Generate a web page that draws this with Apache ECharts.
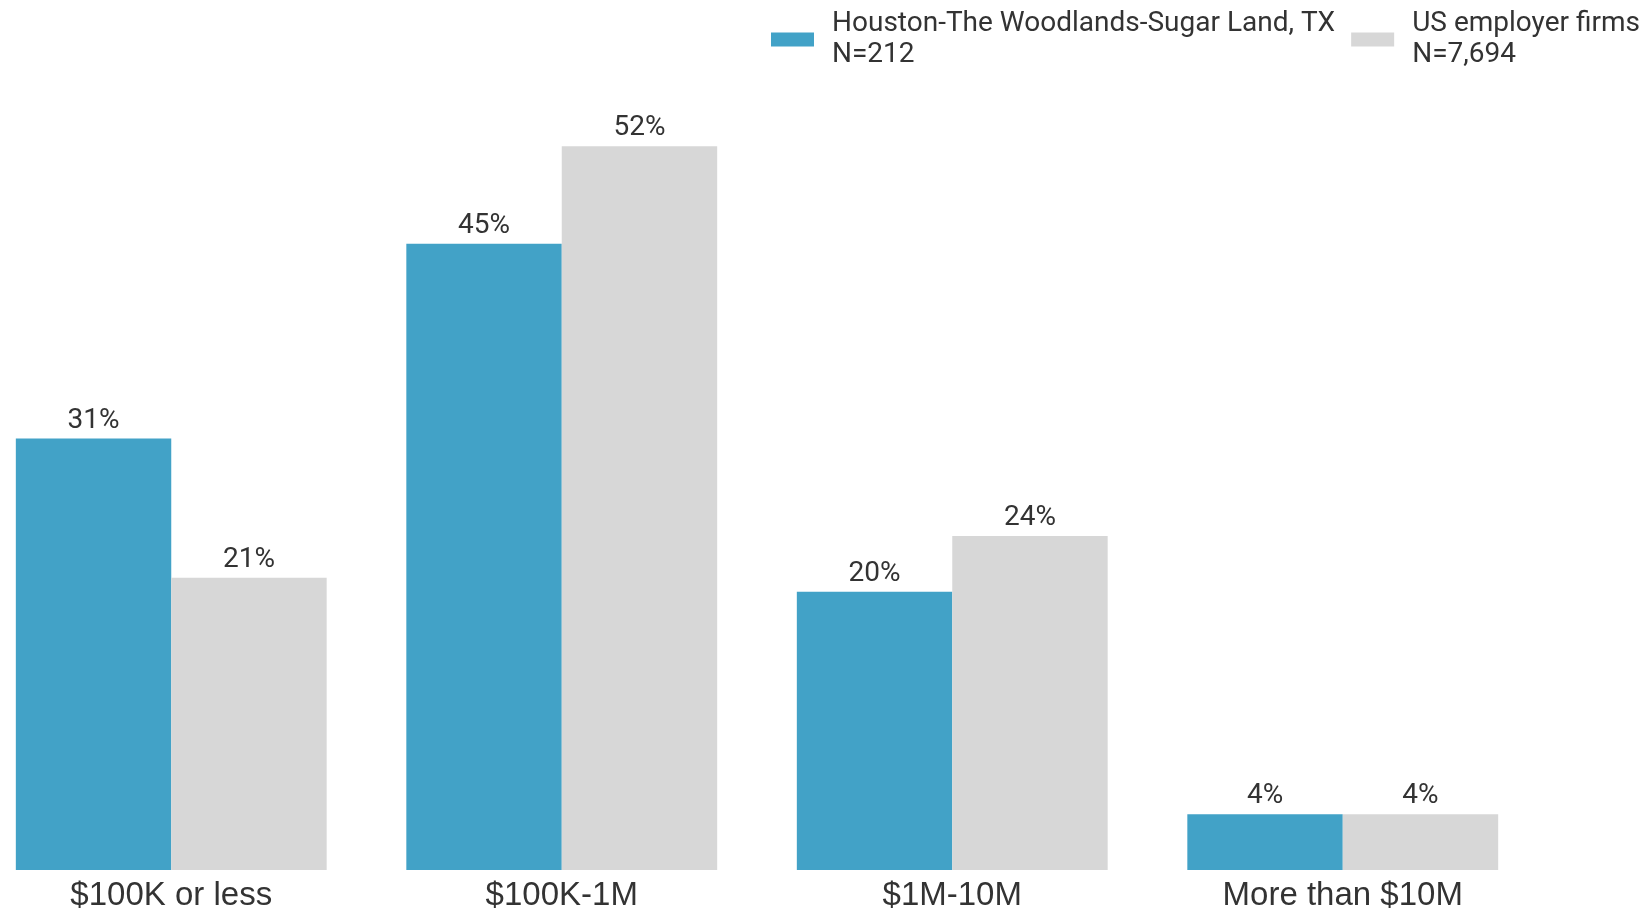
<!DOCTYPE html>
<html>
<head>
<meta charset="utf-8">
<script src="https://cdn.jsdelivr.net/npm/echarts@6/dist/echarts.min.js"></script>
<style>
html,body{margin:0;padding:0;background:#fff;}
#chart{width:1650px;height:909px;}
</style>
</head>
<body>
<div id="chart"></div>
<script>
const categories = ['$100K or less', '$100K-1M', '$1M-10M', 'More than $10M'];
const houstonValues = [31, 45, 20, 4];
const usValues = [21, 52, 24, 4];
const seriesNames = ['Houston-The Woodlands-Sugar Land, TX\nN=212', 'US employer firms\nN=7,694'];

const chart = echarts.init(document.getElementById('chart'));
const labelStyle = {
  show: true,
  position: 'top',
  distance: 4,
  formatter: '{c}%',
  fontFamily: 'Roboto',
  fontSize: 28,
  color: '#333333'
};
chart.setOption({
  animation: false,
  legend: {
    orient: 'horizontal',
    left: 771,
    top: 2,
    right: -200,
    padding: 0,
    itemWidth: 43,
    itemHeight: 14,
    itemGap: 16,
    icon: 'rect',
    textStyle: {
      fontFamily: 'Roboto',
      fontSize: 28,
      lineHeight: 31,
      color: '#333333',
      padding: [0, 0, 13, 13]
    },
    data: seriesNames
  },
  grid: { left: -24, width: 1562, top: 35, bottom: 39, containLabel: false, outerBoundsMode: 'none' },
  xAxis: {
    type: 'category',
    data: categories,
    axisLine: { show: false },
    axisTick: { show: false },
    axisLabel: {
      margin: 9,
      fontFamily: 'Liberation Sans',
      fontSize: 33,
      color: '#333333'
    }
  },
  yAxis: {
    type: 'value',
    min: 0,
    max: 60,
    show: false,
    splitLine: { show: false }
  },
  series: [
    {
      name: seriesNames[0],
      type: 'bar',
      data: houstonValues,
      barGap: '0%',
      barCategoryGap: '20.4%',
      itemStyle: { color: '#42A2C7' },
      label: labelStyle
    },
    {
      name: seriesNames[1],
      type: 'bar',
      data: usValues,
      barGap: '0%',
      barCategoryGap: '20.4%',
      itemStyle: { color: '#D7D7D7' },
      label: labelStyle
    }
  ]
});
</script>
</body>
</html>
